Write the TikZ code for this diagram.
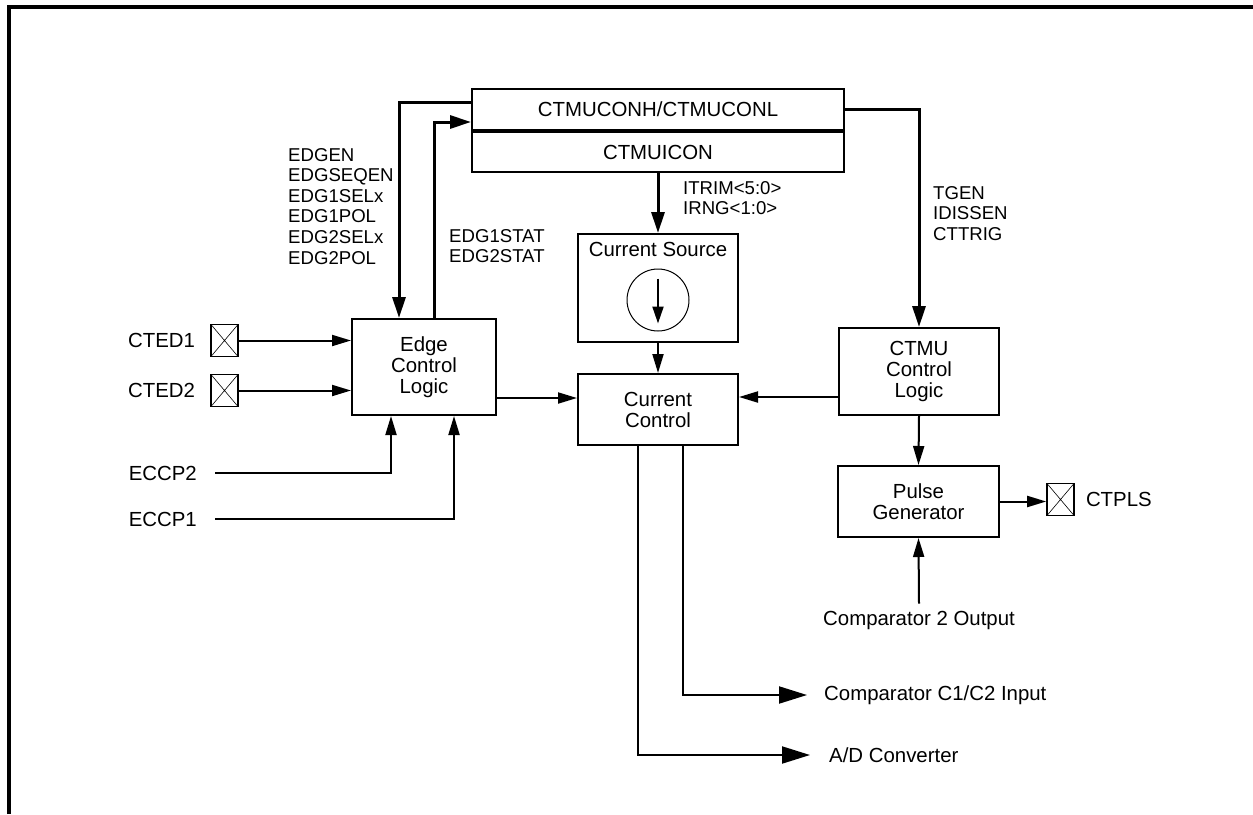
\documentclass[tikz,border=0pt]{standalone}
\usepackage{fontspec}
\setmainfont{Liberation Sans}
\usetikzlibrary{arrows.meta,positioning,calc}

\begin{document}
\begin{tikzpicture}[x=1pt,y=-1pt,font=\fontsize{20.4}{21}\selectfont,
  blk/.style={draw,line width=2pt,align=center,inner sep=0pt},
  lab/.style={inner sep=0pt,align=left},
  bits/.style={lab,anchor=north west,font=\fontsize{18.6}{20.6}\selectfont},
  pin/.style={draw,line width=1.6pt,minimum width=27pt,minimum height=32pt,inner sep=0pt,
    path picture={\draw[line width=0.6pt] (path picture bounding box.north west)--(path picture bounding box.south east)
      (path picture bounding box.south west)--(path picture bounding box.north east);}},
  sig/.style={line width=2pt,-{Triangle[length=19pt,width=11pt]}},
  bus/.style={line width=3pt,-{Triangle[length=21pt,width=13pt]}},
  outp/.style={line width=2pt,-{Triangle[length=28pt,width=17pt]}}]
\useasboundingbox (0,0) rectangle (1253,814);
\draw[line width=3.5pt] (9,814) -- (9,7) -- (1253,7);

\node[blk,minimum width=372pt,minimum height=41pt] (conh) at (658,109.5) {CTMUCONH/CTMUCONL};
\node[blk,minimum width=372pt,minimum height=40pt,anchor=north] (icon) at (conh.south) {CTMUICON};
\node[blk,minimum width=144pt,minimum height=96pt] (edge) at (424,367) {Edge\\Control\\Logic};
\node[blk,minimum width=160pt,minimum height=108pt] (src) at (658,288) {};
\node[lab] (srclab) at (658,249) {Current Source};
\node[circle,draw,line width=1pt,minimum size=62pt,inner sep=0pt] (srcsym) at (658,300) {};
\node[blk,minimum width=160pt,minimum height=71pt] (cc) at (658,409.5) {Current\\Control};
\node[blk,minimum width=160pt,minimum height=87pt] (ctmu) at (919,371.5) {CTMU\\Control\\Logic};
\node[blk,minimum width=161pt,minimum height=71pt] (pulse) at (918.5,501.5) {Pulse\\Generator};

\node[pin] (cted1) at (224.5,340.5) {};
\node[pin] (cted2) at (224.5,390.5) {};
\node[pin] (ctpls) at (1060.5,499.5) {};
\node[lab,left=15pt of cted1] (cted1lab) {CTED1};
\node[lab,left=15pt of cted2] (cted2lab) {CTED2};
\node[lab,right=11pt of ctpls] (ctplslab) {CTPLS};
\node[lab,anchor=east] (eccp2) at (197,473) {ECCP2};
\node[lab,anchor=east] (eccp1) at (197,519) {ECCP1};
\node[lab,inner ysep=7pt] (cmp2) at (919,620) {Comparator 2 Output};
\node[lab,anchor=west,inner xsep=17pt] (cmpin) at (807,695) {Comparator C1/C2 Input};
\node[lab,anchor=west,inner xsep=19pt] (adc) at (810,755) {A/D Converter};

\node[bits] (edgbits) at (288,148) {EDGEN\\EDGSEQEN\\EDG1SELx\\EDG1POL\\EDG2SELx\\EDG2POL};
\node[bits] (statbits) at (449,229) {EDG1STAT\\EDG2STAT};
\node[bits] (trimbits) at (683,181) {ITRIM<5:0>\\IRNG<1:0>};
\node[bits] (genbits) at (933,186) {TGEN\\IDISSEN\\CTTRIG};

\draw[bus] ([yshift=7.5pt]conh.west) -| ([xshift=-25pt]edge.north);
\draw[bus] ([xshift=10pt]edge.north) |- ([yshift=-12.5pt]conh.west);
\draw[bus] (conh.east) -| (ctmu.north);
\draw[bus] (icon.south) -- (src.north);
\draw[line width=2pt,-{Triangle[length=17pt,width=11pt]}] ([yshift=-10pt]srcsym.north) -- ([yshift=8pt]srcsym.south);
\draw[sig] (src.south) -- (cc.north);
\draw[sig] (cted1.east) -- (cted1.east -| edge.west);
\draw[sig] (cted2.east) -- (cted2.east -| edge.west);
\draw[sig] ([xshift=18pt]eccp2.east) -| ([xshift=-33pt]edge.south);
\draw[sig] ([xshift=18pt]eccp1.east) -| ([xshift=30pt]edge.south);
\draw[sig] ([yshift=-31pt]edge.east) -- ([yshift=-31pt]edge.east -| cc.west);
\draw[sig] ([yshift=-25.5pt]ctmu.west) -- ([yshift=-25.5pt]ctmu.west -| cc.east);
\draw[sig] (ctmu.south) -- (pulse.north);
\draw[sig] (pulse.east) -- (pulse.east -| ctpls.west);
\draw[sig] (cmp2.north) -- (pulse.south);
\draw[outp] ([xshift=25pt]cc.south) |- (cmpin.west);
\draw[outp] ([xshift=-20pt]cc.south) |- (adc.west);
\end{tikzpicture}
\end{document}
